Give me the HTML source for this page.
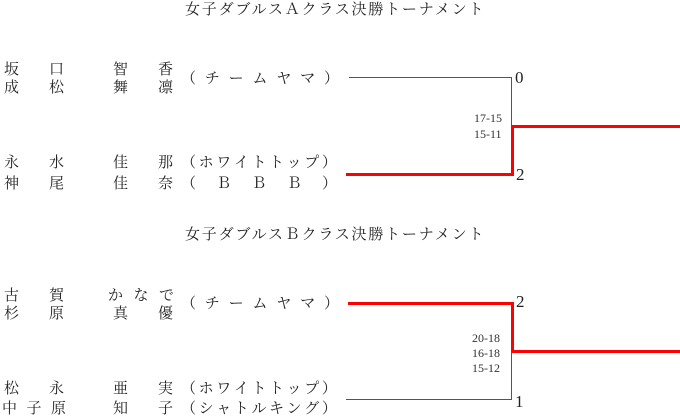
<!DOCTYPE html>
<html><head><meta charset="utf-8"><style>
body{margin:0;width:680px;height:418px;background:#fff;position:relative;overflow:hidden;font-family:"Liberation Serif","Noto Serif CJK JP","Noto Serif CJK SC",serif;color:#222}
.f{position:absolute;display:flex;justify-content:space-between;font-size:15px;line-height:18px;height:18px;white-space:nowrap}
.t{position:absolute;font-size:15px;letter-spacing:1.8px;line-height:18px;white-space:nowrap}
.s{position:absolute;font-size:12px;line-height:14px;color:#333}
.n{position:absolute;font-size:17px;line-height:18px}
.l{position:absolute;background:#555}
.r{position:absolute;background:#f00}
</style></head><body>
<div class="t" style="left:185px;top:1px">女子ダブルスＡクラス決勝トーナメント</div>
<div class="t" style="left:185px;top:226px">女子ダブルスＢクラス決勝トーナメント</div>

<div class="f" style="left:4px;width:60px;top:61px"><span>坂</span><span>口</span></div>
<div class="f" style="left:113px;width:60px;top:61px"><span>智</span><span>香</span></div>
<div class="f" style="left:4px;width:60px;top:79px"><span>成</span><span>松</span></div>
<div class="f" style="left:113px;width:60px;top:79px"><span>舞</span><span>凛</span></div>
<div class="f" style="left:181px;width:158px;top:70px"><span>（</span><span>チ</span><span>ー</span><span>ム</span><span>ヤ</span><span>マ</span><span>）</span></div>

<div class="f" style="left:4px;width:60px;top:154px"><span>永</span><span>水</span></div>
<div class="f" style="left:113px;width:60px;top:154px"><span>佳</span><span>那</span></div>
<div class="f" style="left:4px;width:60px;top:175px"><span>神</span><span>尾</span></div>
<div class="f" style="left:113px;width:60px;top:175px"><span>佳</span><span>奈</span></div>
<div class="f" style="left:181px;width:156px;top:154px"><span>（</span><span>ホ</span><span>ワ</span><span>イ</span><span>ト</span><span>ト</span><span>ッ</span><span>プ</span><span>）</span></div>
<div class="f" style="left:181px;width:156px;top:175px"><span>（</span><span>Ｂ</span><span>Ｂ</span><span>Ｂ</span><span>）</span></div>

<div class="f" style="left:4px;width:60px;top:287px"><span>古</span><span>賀</span></div>
<div class="f" style="left:108px;width:66px;top:287px"><span>か</span><span>な</span><span>で</span></div>
<div class="f" style="left:4px;width:60px;top:305px"><span>杉</span><span>原</span></div>
<div class="f" style="left:113px;width:60px;top:305px"><span>真</span><span>優</span></div>
<div class="f" style="left:181px;width:158px;top:295px"><span>（</span><span>チ</span><span>ー</span><span>ム</span><span>ヤ</span><span>マ</span><span>）</span></div>

<div class="f" style="left:4px;width:60px;top:380px"><span>松</span><span>永</span></div>
<div class="f" style="left:113px;width:60px;top:380px"><span>亜</span><span>実</span></div>
<div class="f" style="left:2px;width:64px;top:400px"><span>中</span><span>子</span><span>原</span></div>
<div class="f" style="left:113px;width:60px;top:400px"><span>知</span><span>子</span></div>
<div class="f" style="left:181px;width:156px;top:380px"><span>（</span><span>ホ</span><span>ワ</span><span>イ</span><span>ト</span><span>ト</span><span>ッ</span><span>プ</span><span>）</span></div>
<div class="f" style="left:181px;width:156px;top:400px"><span>（</span><span>シ</span><span>ャ</span><span>ト</span><span>ル</span><span>キ</span><span>ン</span><span>グ</span><span>）</span></div>

<!-- bracket A -->
<div class="l" style="left:349px;top:77px;width:163px;height:1px"></div>
<div class="l" style="left:511px;top:77px;width:1px;height:50px"></div>
<div class="r" style="left:346px;top:173px;width:168px;height:3px"></div>
<div class="r" style="left:511px;top:125px;width:3px;height:51px"></div>
<div class="r" style="left:511px;top:125px;width:169px;height:3px"></div>
<div class="n" style="left:515px;top:69px">0</div>
<div class="n" style="left:516px;top:166px">2</div>
<div class="s" style="left:474px;top:111px">17-15</div>
<div class="s" style="left:474px;top:127px">15-11</div>

<!-- bracket B -->
<div class="r" style="left:348px;top:302px;width:166px;height:3px"></div>
<div class="r" style="left:511px;top:302px;width:3px;height:51px"></div>
<div class="r" style="left:511px;top:350px;width:169px;height:3px"></div>
<div class="l" style="left:511px;top:352px;width:1px;height:48px"></div>
<div class="l" style="left:346px;top:399px;width:166px;height:1px"></div>
<div class="n" style="left:516px;top:293px">2</div>
<div class="n" style="left:515px;top:393px">1</div>
<div class="s" style="left:472px;top:331px">20-18</div>
<div class="s" style="left:472px;top:346px">16-18</div>
<div class="s" style="left:472px;top:361px">15-12</div>
</body></html>
